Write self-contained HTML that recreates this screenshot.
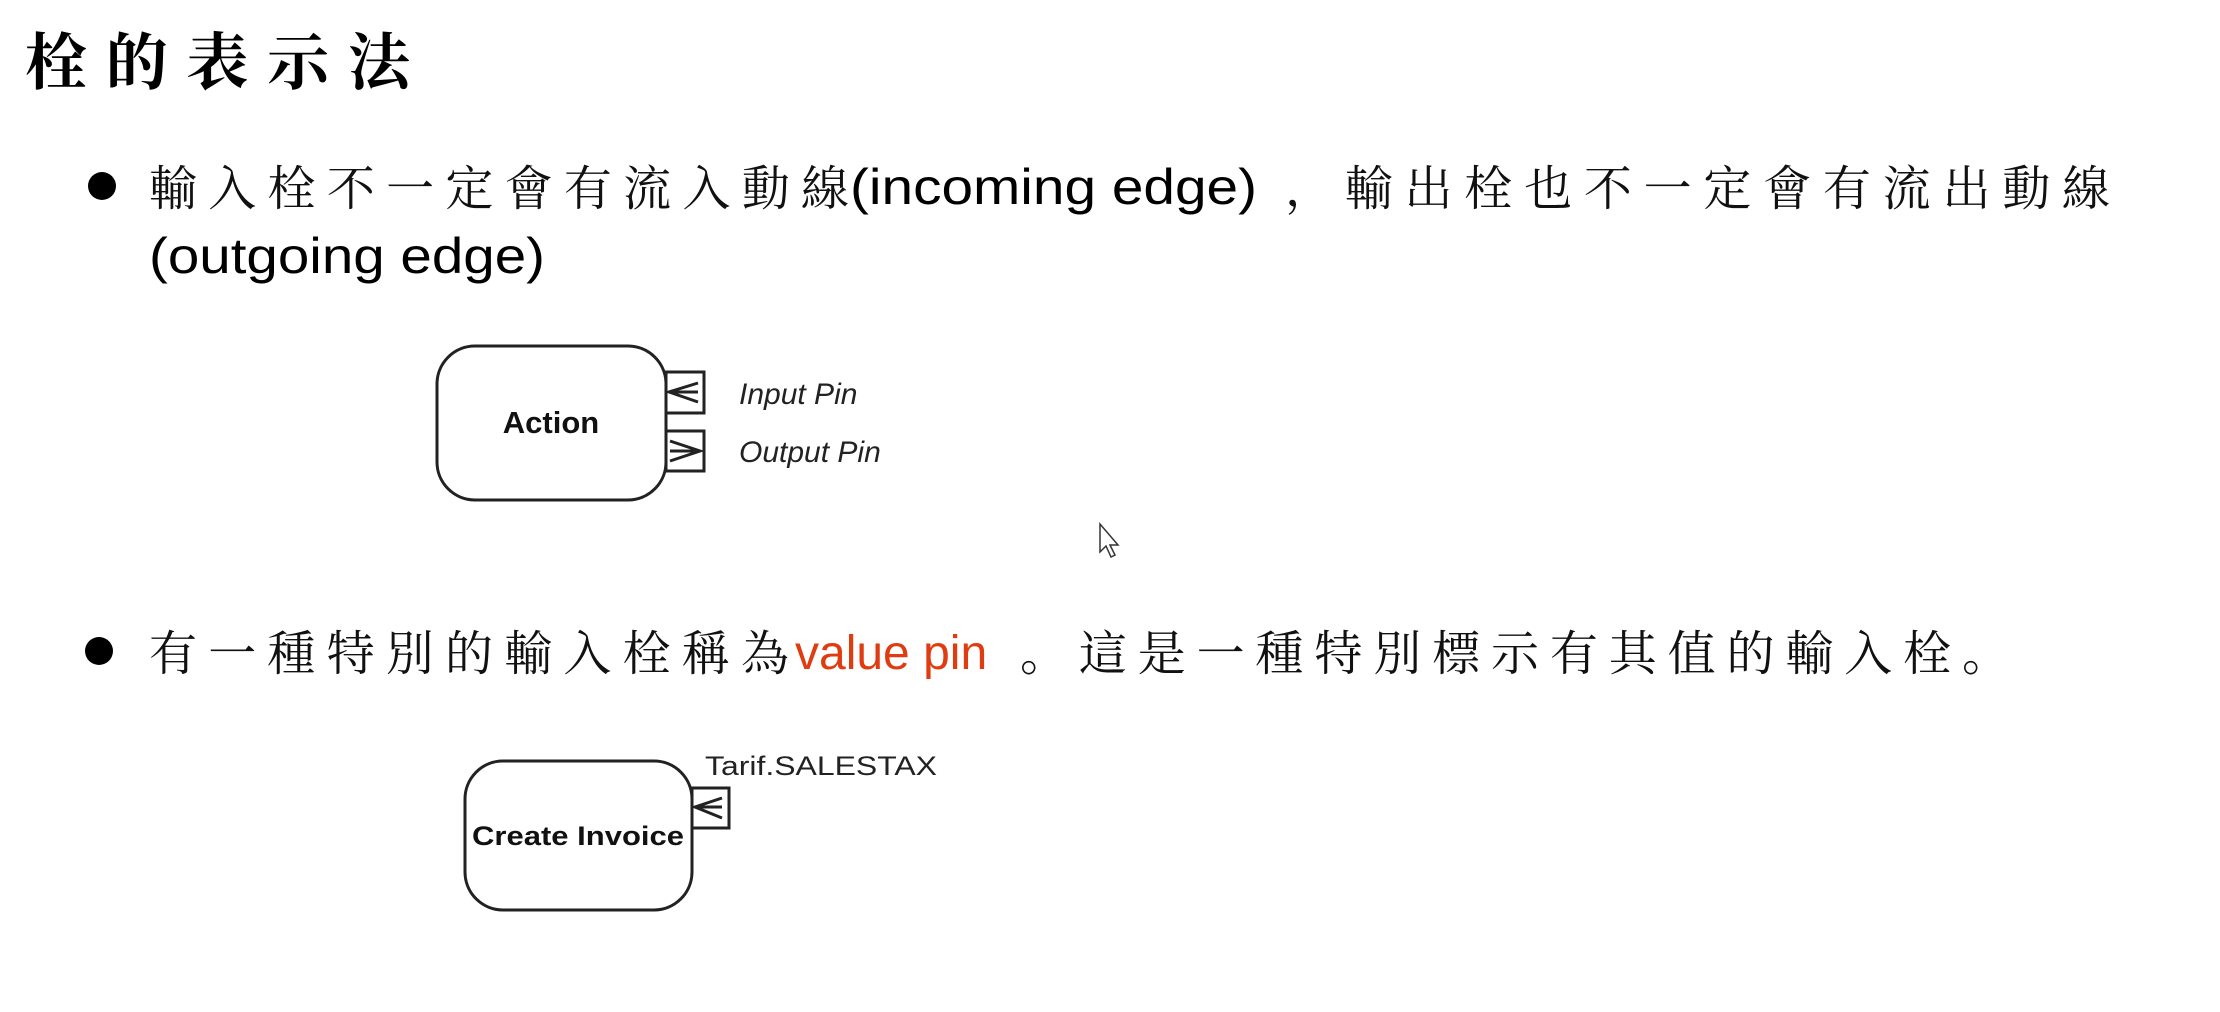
<!DOCTYPE html>
<html><head><meta charset="utf-8"><style>
html,body{margin:0;padding:0;background:#fff;}
svg{display:block}
.cjk{font-family:"Liberation Serif","Noto Serif CJK SC","Noto Sans CJK TC",serif;}
.lat{font-family:"Liberation Sans",Arial,sans-serif;}
</style></head><body>
<svg width="2220" height="1012" viewBox="0 0 2220 1012" xmlns="http://www.w3.org/2000/svg">
<rect width="2220" height="1012" fill="#fff"/>
<text class="cjk" x="25" y="84" font-size="62" font-weight="bold" textLength="385" lengthAdjust="spacing" fill="#000">栓的表示法</text>

<circle cx="102" cy="186" r="14" fill="#000"/>
<text class="cjk" x="149" y="205" font-size="48" textLength="700" lengthAdjust="spacing" fill="#111">輸入栓不一定會有流入動線</text>
<text class="lat" x="850" y="204" font-size="50" textLength="407" lengthAdjust="spacingAndGlyphs" fill="#000">(incoming edge)</text>
<text class="cjk" x="1285" y="205" font-size="48" textLength="825" lengthAdjust="spacing" fill="#111">，輸出栓也不一定會有流出動線</text>
<text class="lat" x="149" y="273" font-size="50" textLength="396" lengthAdjust="spacingAndGlyphs" fill="#000">(outgoing edge)</text>

<rect x="437" y="346" width="229" height="154" rx="38" ry="38" fill="#fff" stroke="#222" stroke-width="3"/>
<text class="lat" x="551" y="433" font-size="31" font-weight="bold" text-anchor="middle" fill="#111">Action</text>
<rect x="666" y="372" width="38" height="41" fill="#fff" stroke="#222" stroke-width="3"/>
<path d="M698 383 L669 392 L698 402 M669 392 L698 392" fill="none" stroke="#222" stroke-width="3"/>
<rect x="666" y="431" width="38" height="40" fill="#fff" stroke="#222" stroke-width="3"/>
<path d="M670 441 L700 451 L670 461 M700 451 L670 451" fill="none" stroke="#222" stroke-width="3"/>
<text class="lat" x="739" y="404" font-size="30" font-style="italic" fill="#222">Input Pin</text>
<text class="lat" x="739" y="462" font-size="30" font-style="italic" fill="#222">Output Pin</text>

<path d="M1100 524 L1100 552 L1106 546 L1111 557 L1115 555 L1110 545 L1118 545 Z" fill="#fff" stroke="#333" stroke-width="1.5"/>

<circle cx="99" cy="651" r="14" fill="#000"/>
<text class="cjk" x="149" y="670" font-size="48" textLength="640" lengthAdjust="spacing" fill="#111">有一種特別的輸入栓稱為</text>
<text class="lat" x="795" y="669" font-size="48" fill="#e03c12">value pin</text>
<text class="cjk" x="1020" y="670" font-size="48" textLength="990" lengthAdjust="spacing" fill="#111">。這是一種特別標示有其值的輸入栓。</text>

<rect x="465" y="761" width="227" height="149" rx="38" ry="38" fill="#fff" stroke="#222" stroke-width="3"/>
<text class="lat" x="578" y="845" font-size="27" font-weight="bold" text-anchor="middle" textLength="212" lengthAdjust="spacingAndGlyphs" fill="#111">Create Invoice</text>
<rect x="692" y="788" width="37" height="40" fill="#fff" stroke="#222" stroke-width="3"/>
<path d="M722 798 L695 807 L722 818 M695 807 L722 807" fill="none" stroke="#222" stroke-width="3"/>
<text class="lat" x="705" y="775" font-size="27" textLength="232" lengthAdjust="spacingAndGlyphs" fill="#222">Tarif.SALESTAX</text>
</svg>
</body></html>
